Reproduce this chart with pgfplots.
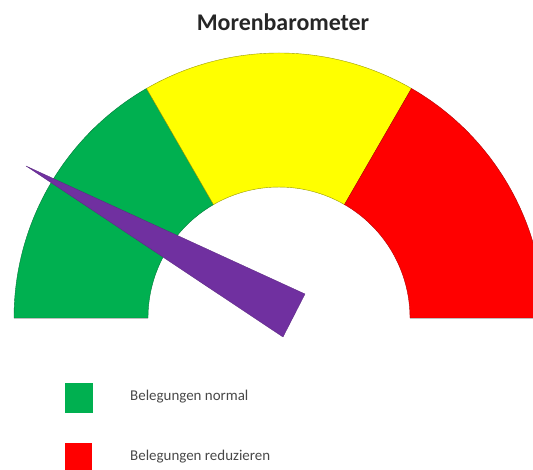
\documentclass[border=0pt]{standalone}
\usepackage{pgfplots}
\pgfplotsset{compat=1.18}
\usepackage{fontspec}
\setmainfont{Carlito}
\definecolor{ggreen}{HTML}{00B050}
\definecolor{gyellow}{HTML}{FFFF00}
\definecolor{gred}{HTML}{FF0000}
\definecolor{gpurple}{HTML}{7030A0}
\begin{document}
\begin{tikzpicture}
\begin{axis}[
  hide axis, scale only axis,
  width=533bp, height=470bp,
  xmin=0, xmax=533, ymin=0, ymax=470,
  clip=true,
]
% gauge segments (center 279,152; outer 265; inner 131)
\fill[ggreen, draw=ggreen!70!black, line width=0.4pt] (axis cs:14,152) arc[start angle=180,end angle=120,radius=265] -- (axis cs:213.5,265.4) arc[start angle=120,end angle=180,radius=131] -- cycle;
\fill[gyellow, draw=gyellow!60!black, line width=0.4pt] (axis cs:146.5,381.5) arc[start angle=120,end angle=60,radius=265] -- (axis cs:344.5,265.4) arc[start angle=60,end angle=120,radius=131] -- cycle;
\fill[gred, draw=gred!70!black, line width=0.4pt] (axis cs:411.5,381.5) arc[start angle=60,end angle=0,radius=265] -- (axis cs:410,152) arc[start angle=0,end angle=60,radius=131] -- cycle;
\draw[black!25, line width=0.8pt] (axis cs:14,151.5) -- (axis cs:148,151.5);
\draw[black!25, line width=0.8pt] (axis cs:410,151.5) -- (axis cs:533,151.5);
% needle
\addplot[fill=gpurple, draw=gpurple!80!black, line width=0.3pt] coordinates {(26,304) (305,176) (283,133)} -- cycle;
% legend
\fill[ggreen] (axis cs:65,57) rectangle (axis cs:93,87);
\fill[gred] (axis cs:65,0) rectangle (axis cs:92,27);
\node[anchor=west, inner sep=0pt, font=\fontsize{15}{17}\selectfont, text=black!72] at (axis cs:130,73) {Belegungen normal};
\node[anchor=west, inner sep=0pt, font=\fontsize{15}{17}\selectfont, text=black!72] at (axis cs:130,13) {Belegungen reduzieren};
% title
\node[font=\bfseries\fontsize{24}{28}\selectfont, text=black!85] at (axis cs:283,448) {Morenbarometer};
\end{axis}
\pgfresetboundingbox
\path (current axis.south west) rectangle (current axis.north east);
\end{tikzpicture}
\end{document}
